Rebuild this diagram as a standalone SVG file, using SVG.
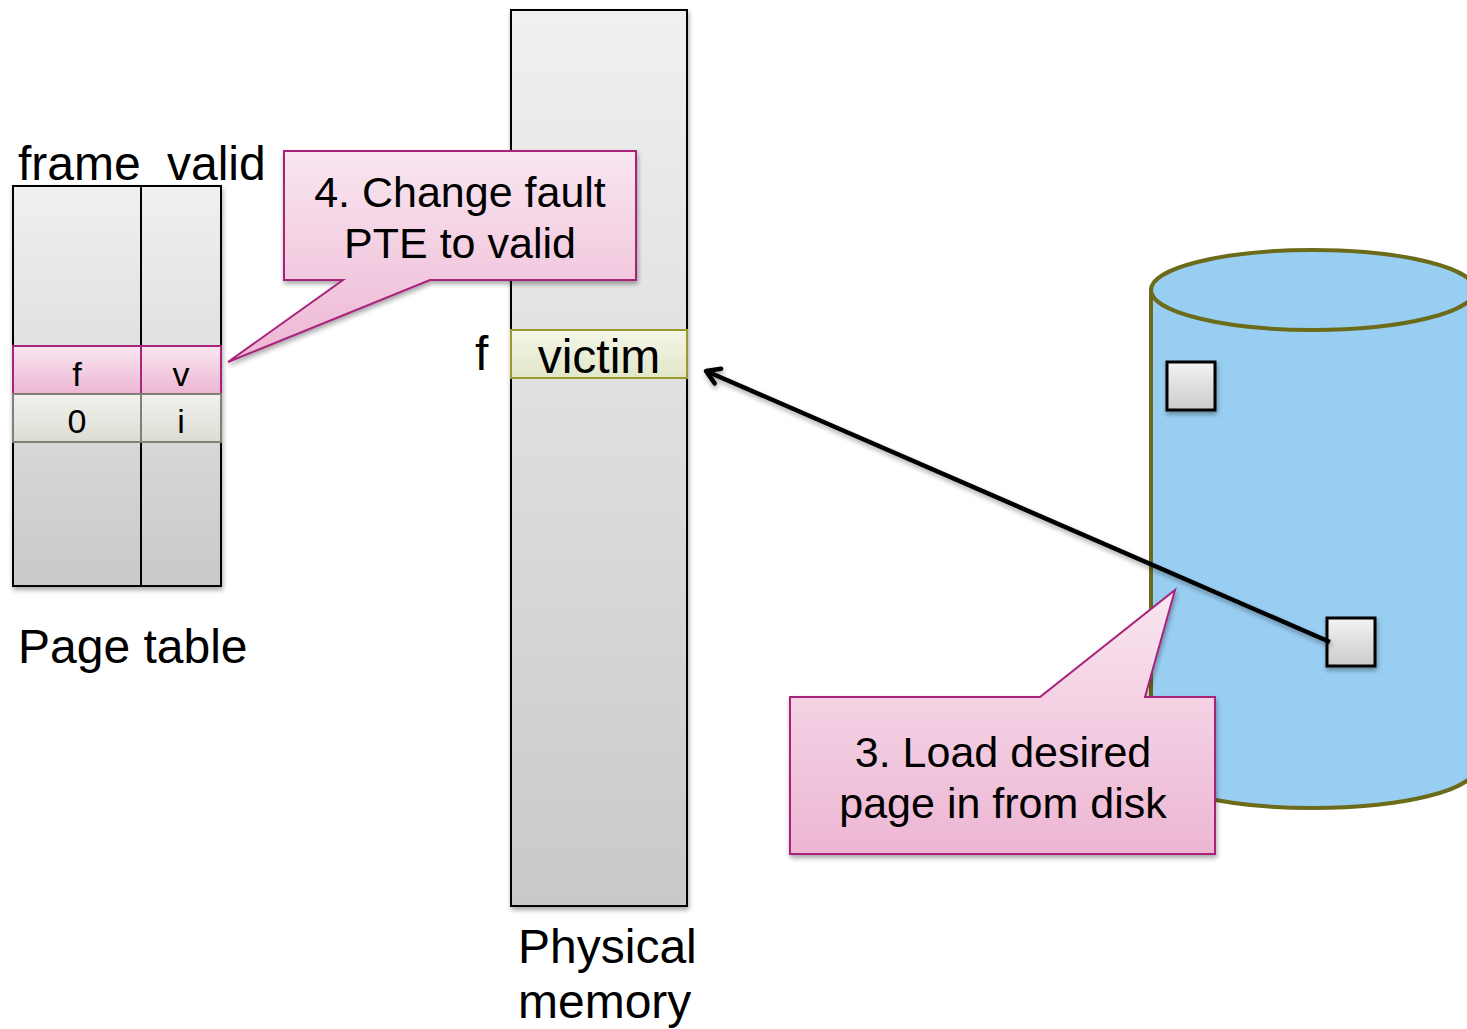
<svg xmlns="http://www.w3.org/2000/svg" width="1467" height="1029" viewBox="0 0 1467 1029">
<defs>
<linearGradient id="gray" x1="0" y1="0" x2="0" y2="1"><stop offset="0" stop-color="#f0f0f0"/><stop offset="1" stop-color="#c9c9c9"/></linearGradient>
<linearGradient id="pink" x1="0" y1="0" x2="0" y2="1"><stop offset="0" stop-color="#f9e6f0"/><stop offset="1" stop-color="#edb6d3"/></linearGradient>
<linearGradient id="rowi" x1="0" y1="0" x2="0" y2="1"><stop offset="0" stop-color="#f2f2ee"/><stop offset="1" stop-color="#dcdcd4"/></linearGradient>
<linearGradient id="vic" x1="0" y1="0" x2="0" y2="1"><stop offset="0" stop-color="#f4f6e8"/><stop offset="1" stop-color="#e2e6c8"/></linearGradient>
<linearGradient id="sq" x1="0" y1="0" x2="0" y2="1"><stop offset="0" stop-color="#f2f2f2"/><stop offset="1" stop-color="#cccccc"/></linearGradient>
<filter id="sh" x="-10%" y="-10%" width="130%" height="130%"><feGaussianBlur in="SourceAlpha" stdDeviation="2.5"/><feOffset dx="1" dy="3" result="b"/><feComponentTransfer><feFuncA type="linear" slope="0.35"/></feComponentTransfer><feMerge><feMergeNode/><feMergeNode in="SourceGraphic"/></feMerge></filter>
<marker id="arr" viewBox="0 0 22 22" refX="18" refY="11" markerWidth="22" markerHeight="22" markerUnits="userSpaceOnUse" orient="auto"><path d="M5,3 L18,11 L5,19" fill="none" stroke="#000" stroke-width="4.5" stroke-linecap="round" stroke-linejoin="round"/></marker>
</defs>
<style>
text{font-family:"Liberation Sans",Arial,sans-serif;fill:#000}
.big{font-size:48px}
.cal{font-size:43px;text-anchor:middle}
.cell{font-size:34px;text-anchor:middle}
.callout{fill:url(#pink);stroke:#a8247c;stroke-width:2}
.sq{fill:url(#sq);stroke:#000;stroke-width:3}
</style>
<rect width="1467" height="1029" fill="#fff"/>

<g id="page-table">
<text class="big" x="18" y="180">frame</text>
<text class="big" x="167" y="180">valid</text>
<rect x="13" y="186" width="208" height="400" fill="url(#gray)" stroke="#000" stroke-width="2" filter="url(#sh)"/>
<line x1="141" y1="186" x2="141" y2="586" stroke="#000" stroke-width="2"/>
<rect x="13" y="346" width="128" height="48" fill="url(#pink)" stroke="#a8247c" stroke-width="2"/>
<rect x="141" y="346" width="80" height="48" fill="url(#pink)" stroke="#a8247c" stroke-width="2"/>
<rect x="13" y="394" width="128" height="48" fill="url(#rowi)" stroke="#808078" stroke-width="2"/>
<rect x="141" y="394" width="80" height="48" fill="url(#rowi)" stroke="#808078" stroke-width="2"/>
<text class="cell" x="77" y="386">f</text>
<text class="cell" x="181" y="386">v</text>
<text class="cell" x="77" y="433">0</text>
<text class="cell" x="181" y="433">i</text>
<text class="big" x="18" y="663">Page table</text>
</g>

<g id="physical-memory">
<rect x="511" y="10" width="176" height="896" fill="url(#gray)" stroke="#000" stroke-width="2" filter="url(#sh)"/>
<rect x="511" y="330" width="176" height="48" fill="url(#vic)" stroke="#9a9a30" stroke-width="2"/>
<text class="big" x="599" y="373" text-anchor="middle">victim</text>
<text class="big" x="475" y="370">f</text>
<text class="big" x="518" y="963">Physical</text>
<text class="big" x="518" y="1018">memory</text>
</g>

<g id="callout-4">
<path class="callout" d="M284,151 H636 V280 H430 L228,362 L343,280 H284 Z" filter="url(#sh)"/>
<text class="cal" x="460" y="207">4. Change fault</text>
<text class="cal" x="460" y="258">PTE to valid</text>
</g>

<g id="disk">
<path d="M1151,290 V768 A162,40 0 0 0 1475,768 V290" fill="#99cef3" stroke="#6b6b1a" stroke-width="4"/>
<ellipse cx="1313" cy="290" rx="162" ry="40" fill="#99cef3" stroke="#6b6b1a" stroke-width="4"/>
<rect class="sq" x="1167" y="362" width="48" height="48" filter="url(#sh)"/>
<rect class="sq" x="1327" y="618" width="48" height="48" filter="url(#sh)"/>
</g>

<g id="connectors">
<line x1="1330" y1="642" x2="706" y2="371" stroke="#000" stroke-width="4.5" marker-end="url(#arr)" filter="url(#sh)"/>
</g>

<g id="callout-3">
<path class="callout" d="M790,697 H1040 L1175,590 L1145,697 H1215 V854 H790 Z" filter="url(#sh)"/>
<text class="cal" x="1003" y="767">3. Load desired</text>
<text class="cal" x="1003" y="818">page in from disk</text>
</g>
</svg>
